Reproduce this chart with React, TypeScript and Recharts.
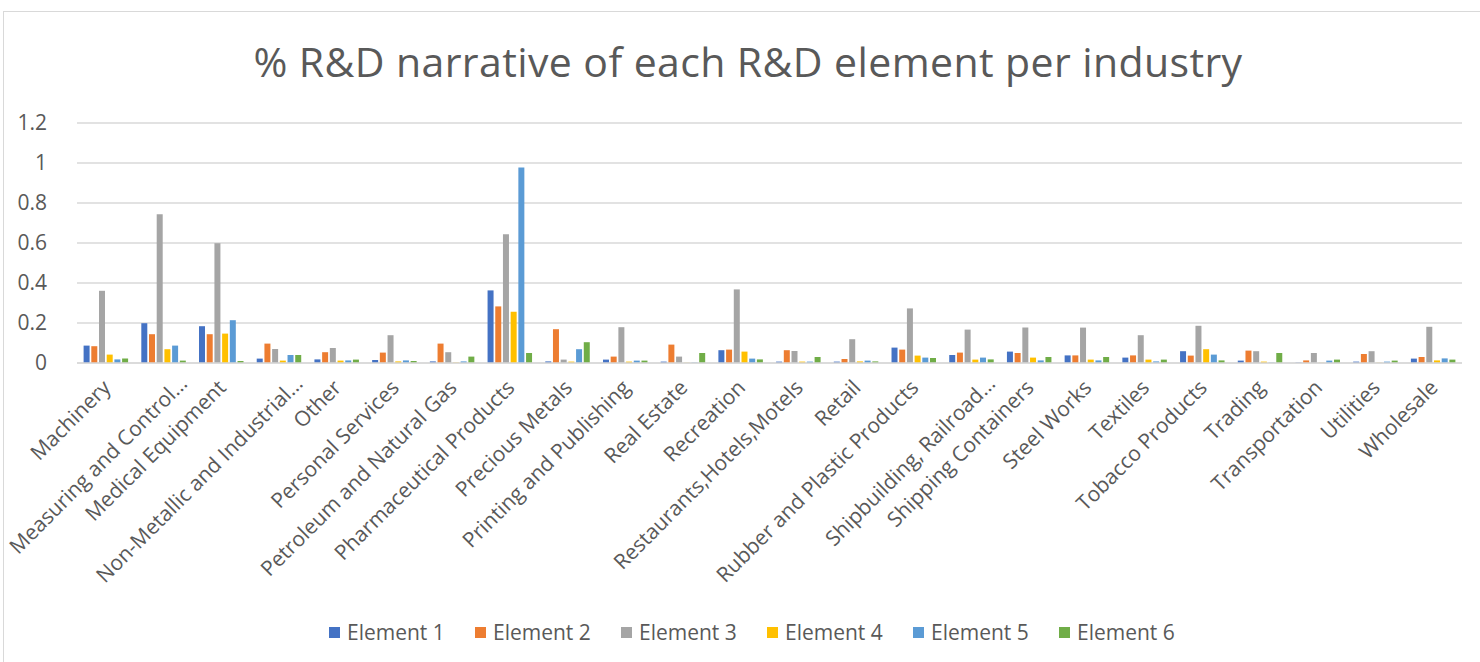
import React from "react";
import { BarChart, Bar, XAxis, YAxis, CartesianGrid } from "recharts";

// Industries along the x axis (long names are shown shortened)
const categories: string[] = [
  "Machinery",
  "Measuring and Control…",
  "Medical Equipment",
  "Non-Metallic and Industrial…",
  "Other",
  "Personal Services",
  "Petroleum and Natural Gas",
  "Pharmaceutical Products",
  "Precious Metals",
  "Printing and Publishing",
  "Real Estate",
  "Recreation",
  "Restaurants,Hotels,Motels",
  "Retail",
  "Rubber and Plastic Products",
  "Shipbuilding, Railroad…",
  "Shipping Containers",
  "Steel Works",
  "Textiles",
  "Tobacco Products",
  "Trading",
  "Transportation",
  "Utilities",
  "Wholesale",
];

// Share of R&D narrative per element, one value per industry
const element1: number[] = [0.087, 0.199, 0.184, 0.022, 0.018, 0.015, 0.008, 0.363, 0.008, 0.017, 0.007, 0.064, 0.007, 0.007, 0.077, 0.04, 0.057, 0.038, 0.027, 0.059, 0.012, 0.002, 0.007, 0.022];
const element2: number[] = [0.084, 0.144, 0.144, 0.097, 0.054, 0.052, 0.097, 0.283, 0.169, 0.032, 0.092, 0.067, 0.064, 0.02, 0.067, 0.052, 0.05, 0.038, 0.038, 0.037, 0.062, 0.013, 0.045, 0.03];
const element3: number[] = [0.361, 0.744, 0.599, 0.07, 0.075, 0.139, 0.054, 0.644, 0.017, 0.179, 0.032, 0.368, 0.06, 0.119, 0.273, 0.167, 0.177, 0.177, 0.139, 0.186, 0.059, 0.05, 0.059, 0.181];
const element4: number[] = [0.042, 0.069, 0.147, 0.012, 0.012, 0.008, 0.002, 0.256, 0.007, 0.007, 0.001, 0.057, 0.007, 0.008, 0.037, 0.017, 0.027, 0.017, 0.017, 0.069, 0.007, 0.001, 0.001, 0.013];
const element5: number[] = [0.018, 0.087, 0.214, 0.04, 0.013, 0.013, 0.008, 0.978, 0.069, 0.012, 0.002, 0.022, 0.007, 0.012, 0.027, 0.027, 0.013, 0.013, 0.008, 0.042, 0.002, 0.012, 0.007, 0.023];
const element6: number[] = [0.023, 0.012, 0.01, 0.04, 0.017, 0.01, 0.032, 0.05, 0.104, 0.012, 0.05, 0.018, 0.03, 0.008, 0.025, 0.018, 0.03, 0.03, 0.017, 0.013, 0.05, 0.017, 0.012, 0.017];

const seriesNames: string[] = ["Element 1", "Element 2", "Element 3", "Element 4", "Element 5", "Element 6"];
const seriesValues: number[][] = [element1, element2, element3, element4, element5, element6];
const seriesColors: string[] = ["#4472C4", "#ED7D31", "#A5A5A5", "#FFC000", "#5B9BD5", "#70AD47"];

const yTicks: number[] = [0, 0.2, 0.4, 0.6, 0.8, 1, 1.2];

const data = categories.map((name, i) => {
  const row: Record<string, string | number> = { name };
  seriesNames.forEach((s, k) => {
    row[s] = seriesValues[k][i];
  });
  return row;
});

const FONT = "'Open Sans', sans-serif";
const TEXT = "#595959";

// Rotated category label; shortened names sit a little further up-right
const CategoryTick = (props: any) => {
  const { x, y, payload } = props;
  const label: string = payload.value;
  const short = label.endsWith("…");
  const dx = short ? 19 : 0;
  const dy = short ? -4 : 0;
  return (
    <text
      transform={`translate(${x + 6 + dx},${y + 26 + dy}) rotate(-45)`}
      textAnchor="end"
      fontFamily={FONT}
      fontSize={21}
      fill={TEXT}
    >
      {label}
    </text>
  );
};

export default function App() {
  return (
    <div
      style={{
        position: "fixed",
        left: 0,
        top: 0,
        width: 1480,
        height: 662,
        overflow: "hidden",
        background: "#fff",
      }}
    >
      <div
        style={{
          position: "absolute",
          left: 3,
          top: 11,
          width: 1492,
          height: 680,
          border: "1px solid #d9d9d9",
          boxSizing: "border-box",
        }}
      />
      <div
        style={{
          position: "absolute",
          left: 0,
          top: 41,
          width: 1496,
          textAlign: "center",
          fontFamily: FONT,
          fontSize: 41,
          letterSpacing: 0.4,
          lineHeight: 1,
          color: TEXT,
          whiteSpace: "nowrap",
        }}
      >
        % R&amp;D narrative of each R&amp;D element per industry
      </div>
      <div style={{ position: "absolute", left: 0, top: 0 }}>
        <BarChart
          width={1480}
          height={662}
          data={data}
          margin={{ top: 123, right: 18, bottom: 59, left: 0 }}
          barCategoryGap={6.6}
          barGap={1.7}
        >
          <CartesianGrid vertical={false} stroke="#d9d9d9" strokeWidth={1.3} />
          <XAxis
            dataKey="name"
            interval={0}
            height={240}
            tickLine={false}
            tickSize={0}
            tickMargin={0}
            axisLine={{ stroke: "#d9d9d9", strokeWidth: 1.3 }}
            tick={<CategoryTick />}
          />
          <YAxis
            width={77}
            domain={[0, 1.2]}
            ticks={yTicks}
            interval={0}
            axisLine={false}
            tickLine={false}
            tickMargin={24}
            tick={{ fontFamily: FONT, fontSize: 21, fill: TEXT }}
          />
          {seriesNames.map((s, k) => (
            <Bar key={s} dataKey={s} fill={seriesColors[k]} isAnimationActive={false} />
          ))}
        </BarChart>
      </div>
      <div
        style={{
          position: "absolute",
          left: 329,
          top: 620,
          display: "flex",
          fontFamily: FONT,
          fontSize: 21,
          lineHeight: "24px",
          color: TEXT,
          whiteSpace: "nowrap",
        }}
      >
        {seriesNames.map((s, k) => (
          <div key={s} style={{ display: "flex", alignItems: "center", width: 146 }}>
            <span
              style={{
                display: "inline-block",
                width: 11,
                height: 11,
                background: seriesColors[k],
                marginRight: 7,
              }}
            />
            <span>{s}</span>
          </div>
        ))}
      </div>
    </div>
  );
}
